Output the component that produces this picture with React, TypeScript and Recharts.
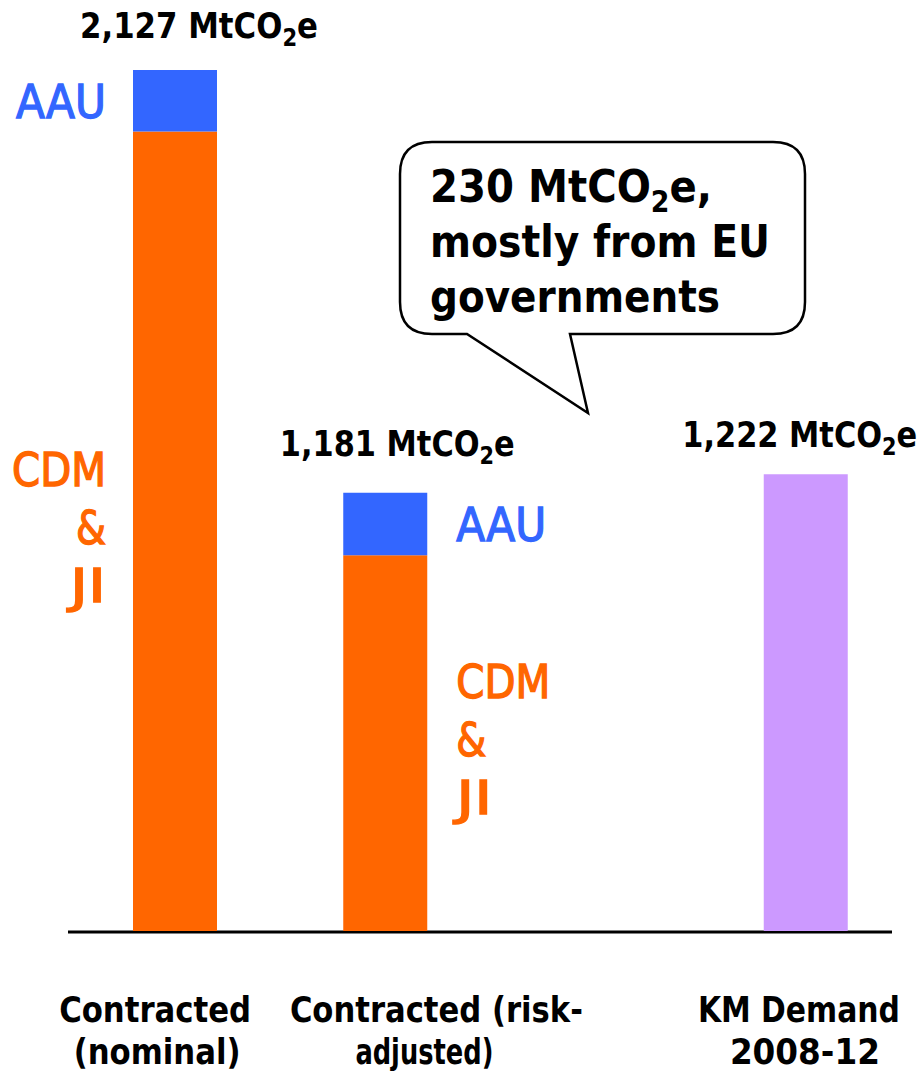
import React from 'react';
import { BarChart, Bar, XAxis, YAxis, LabelList, Customized } from 'recharts';

// values (MtCO2e); the value axis starts near 200
const categories = ['Contracted (nominal)', 'Contracted (risk-adjusted)', '', 'KM Demand 2008-12'];
const cdmJi = [1989, 1041, null, null];
const aau = [138, 140, null, null];
const demand = [null, null, null, 1222];
const totalLabels = ['2,127', '1,181', '', '1,222'];
const tickLines = [['Contracted', '(nominal)'], ['Contracted (risk-', 'adjusted)'], [], ['KM Demand', '2008-12']];
const calloutLines = ['230 MtCO', 'mostly from EU', 'governments'];

const data = categories.map((name, i) => ({
  name,
  cdmJi: cdmJi[i],
  aau: aau[i],
  demand: demand[i],
  total: totalLabels[i],
}));

const FONT = '"DejaVu Sans", Verdana, sans-serif';
const ORANGE = '#FF6600';
const BLUE = '#3366FF';
const PURPLE = '#CC99FF';

// total labels above the bars, keyed by category position
const totalPos: Record<number, { dx: number; dy: number; w: number }> = {
  0: { dx: 24, dy: -32, w: 238 },
  1: { dx: 12, dy: -37, w: 235 },
  3: { dx: -6, dy: -27, w: 235 },
};

const TotalLabel = (props: any) => {
  const { x, y, width, value } = props;
  if (!value) return null;
  const p = totalPos[totalLabels.indexOf(value)];
  if (!p) return null;
  return (
    <text
      x={x + width / 2 + p.dx}
      y={y + p.dy}
      textAnchor="middle"
      fontFamily={FONT}
      fontWeight="bold"
      fontSize={35}
      fill="#000"
      textLength={p.w}
      lengthAdjust="spacingAndGlyphs"
    >
      {value} MtCO
      <tspan fontSize={24} dy={8}>2</tspan>
      <tspan dy={-8}>e</tspan>
    </text>
  );
};

// segment names beside the bars: left of the first bar, right of the second
const SegmentLabel = (lines: string[], widths: number[], color: string, offsets: number[]) => (props: any) => {
  const { x, y, width, height, index } = props;
  if (index > 1) return null;
  const left = index === 0;
  const tx = left ? x - 27 : x + width + 29;
  const cy = y + height / 2;
  return (
    <g>
      {lines.map((t, k) => (
        <text
          key={k}
          x={tx}
          y={cy + offsets[k]}
          textAnchor={left ? 'end' : 'start'}
          fontFamily={FONT}
          fontSize={46}
          fill={color}
          stroke={color}
          strokeWidth={1.4}
          textLength={widths[k]}
          lengthAdjust="spacingAndGlyphs"
        >
          {t}
        </text>
      ))}
    </g>
  );
};

const tickPos = [
  { dx: [-20, -18], w: [192, 167] },
  { dx: [51, 39], w: [293, 138] },
  { dx: [0, 0], w: [0, 0] },
  { dx: [-7, -1], w: [202, 150] },
];

const CategoryTick = (props: any) => {
  const { x, y, index } = props;
  const lines = tickLines[index] || [];
  const p = tickPos[index];
  return (
    <g>
      {lines.map((t, k) => (
        <text
          key={k}
          x={x + p.dx[k]}
          y={y + 91 + k * 42}
          textAnchor="middle"
          fontFamily={FONT}
          fontWeight="bold"
          fontSize={36}
          fill="#000"
          textLength={p.w[k]}
          lengthAdjust="spacingAndGlyphs"
        >
          {t}
        </text>
      ))}
    </g>
  );
};

const Callout = () => {
  const l = 400, r = 805, t = 142, b = 334, rad = 32;
  const d =
    `M${l + rad},${t} L${r - rad},${t} Q${r},${t} ${r},${t + rad} ` +
    `L${r},${b - rad} Q${r},${b} ${r - rad},${b} ` +
    `L570,${b} L588,413 L467,${b} ` +
    `L${l + rad},${b} Q${l},${b} ${l},${b - rad} L${l},${t + rad} Q${l},${t} ${l + rad},${t} Z`;
  return (
    <g>
      <line x1={68} y1={932} x2={892} y2={932} stroke="#000" strokeWidth={3} />
      <path d={d} fill="#fff" stroke="#000" strokeWidth={2.5} />
      <text x={430} y={202} fontFamily={FONT} fontWeight="bold" fontSize={45} textLength={282} lengthAdjust="spacingAndGlyphs">
        {calloutLines[0]}
        <tspan fontSize={30} dy={10}>2</tspan>
        <tspan dy={-10}>e,</tspan>
      </text>
      <text x={430} y={257} fontFamily={FONT} fontWeight="bold" fontSize={45} textLength={340} lengthAdjust="spacingAndGlyphs">
        {calloutLines[1]}
      </text>
      <text x={430} y={312} fontFamily={FONT} fontWeight="bold" fontSize={45} textLength={290} lengthAdjust="spacingAndGlyphs">
        {calloutLines[2]}
      </text>
    </g>
  );
};

export default function App() {
  return (
    <div style={{ position: 'absolute', left: 0, top: 0, width: 923, height: 1073, background: '#fff' }}>
      <BarChart
        width={923}
        height={1073}
        data={data}
        margin={{ top: 15, right: 12, left: 70, bottom: 0 }}
      >
        <XAxis
          dataKey="name"
          axisLine={false}
          tickLine={false}
          tickSize={0}
          tickMargin={0}
          height={142}
          interval={0}
          tick={<CategoryTick />}
        />
        <YAxis hide domain={[200, 2250]} allowDataOverflow type="number" />
        <Bar dataKey="cdmJi" stackId="a" fill={ORANGE} barSize={84} isAnimationActive={false}>
          <LabelList content={SegmentLabel(['CDM', '&', 'JI'], [94, 30, 36], ORANGE, [-45, 13, 71])} />
        </Bar>
        <Bar dataKey="aau" stackId="a" fill={BLUE} barSize={84} isAnimationActive={false}>
          <LabelList content={SegmentLabel(['AAU'], [90], BLUE, [17])} />
          <LabelList dataKey="total" content={TotalLabel} />
        </Bar>
        <Bar dataKey="demand" stackId="a" fill={PURPLE} barSize={84} isAnimationActive={false}>
          <LabelList dataKey="total" content={TotalLabel} />
        </Bar>
        <Customized component={Callout} />
      </BarChart>
    </div>
  );
}
